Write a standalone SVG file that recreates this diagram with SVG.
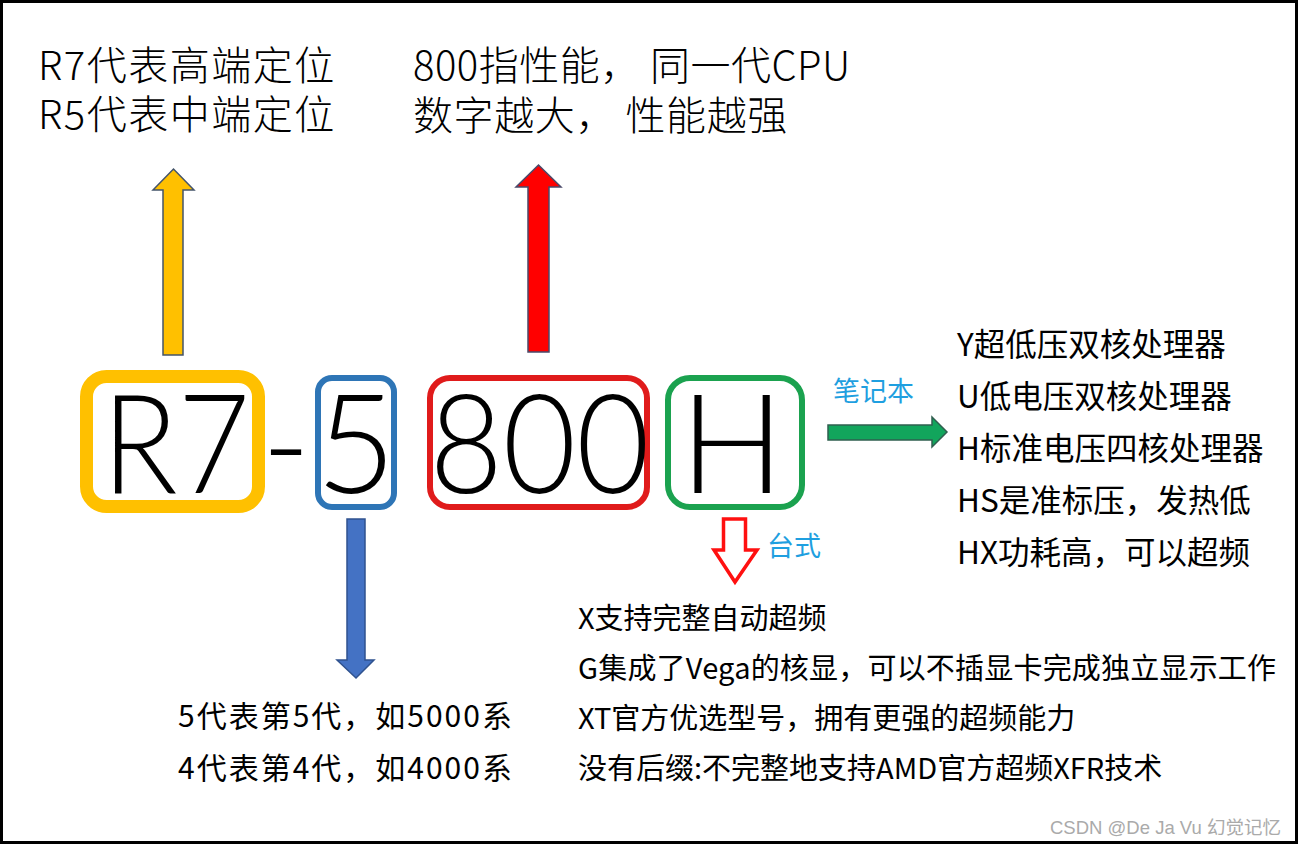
<svg xmlns="http://www.w3.org/2000/svg" width="1299" height="845" viewBox="0 0 1299 845">
<style>
.cjk{font-family:"Noto Sans CJK SC","Noto Sans",sans-serif;fill:#000}
.top{font-size:40px;font-weight:300}
.mid{font-size:31.5px}
.low{font-size:29px}
.gen{font-size:30px;letter-spacing:2px}
.big{font-family:"Lato","Noto Sans","Liberation Sans",sans-serif;font-weight:300;font-size:138px;fill:#000;text-anchor:middle}
.lbl{font-family:"Noto Sans CJK SC",sans-serif;font-size:27px;fill:#1F9FE0}
.box{fill:none}
.arr{stroke-width:1.5;stroke-linejoin:miter}
</style>
<rect x="0" y="0" width="1299" height="845" fill="#fff"/>
<rect x="1.5" y="1.5" width="1295" height="841" fill="none" stroke="#000" stroke-width="3"/>

<g id="desc-r">
<text class="cjk top" x="38" y="80" letter-spacing="1.5">R7代表高端定位</text>
<text class="cjk top" x="38" y="129" letter-spacing="1.5">R5代表中端定位</text>
</g>
<g id="desc-800">
<text class="cjk top" x="413" y="80" letter-spacing="0.5">800指性能， 同一代CPU</text>
<text class="cjk top" x="413" y="130" letter-spacing="0.6">数字越大， 性能越强</text>
</g>

<g id="node-r7">
<rect class="box" x="86.5" y="376.5" width="172" height="130" rx="20" stroke="#FFC000" stroke-width="13"/>
<text class="big" x="176" y="493" textLength="148" lengthAdjust="spacingAndGlyphs">R7</text>
</g>
<g id="dash">
<text class="big" x="286" y="493" textLength="48" lengthAdjust="spacingAndGlyphs">-</text>
</g>
<g id="node-5">
<rect class="box" x="318" y="378" width="76" height="129" rx="14" stroke="#2E75B6" stroke-width="6"/>
<text class="big" x="356" y="493">5</text>
</g>
<g id="node-800">
<rect class="box" x="430" y="378" width="217" height="129" rx="20" stroke="#E01B1B" stroke-width="6"/>
<text class="big" x="539.5" y="493" textLength="220" lengthAdjust="spacingAndGlyphs">800</text>
</g>
<g id="node-h">
<rect class="box" x="668" y="378" width="134" height="129" rx="22" stroke="#1BA24F" stroke-width="6"/>
<text class="big" x="732" y="493">H</text>
</g>

<g id="desc-suffix-laptop">
<text class="cjk mid" x="957" y="356">Y超低压双核处理器</text>
<text class="cjk mid" x="957" y="408">U低电压双核处理器</text>
<text class="cjk mid" x="957" y="460">H标准电压四核处理器</text>
<text class="cjk mid" x="957" y="512">HS是准标压，发热低</text>
<text class="cjk mid" x="957" y="564">HX功耗高，可以超频</text>
</g>
<g id="desc-suffix-desktop">
<text class="cjk low" x="578" y="629">X支持完整自动超频</text>
<text class="cjk low" x="578" y="679" letter-spacing="0.2">G集成了Vega的核显，可以不插显卡完成独立显示工作</text>
<text class="cjk low" x="578" y="729">XT官方优选型号，拥有更强的超频能力</text>
<text class="cjk low" x="578" y="779">没有后缀:不完整地支持AMD官方超频XFR技术</text>
</g>
<g id="desc-gen">
<text class="cjk gen" x="178" y="727">5代表第5代，如5000系</text>
<text class="cjk gen" x="178" y="779">4代表第4代，如4000系</text>
</g>

<g id="connectors">
<polygon class="arr" points="163,355 163,190 153,190 173.5,169 194,190 183,190 183,355" fill="#FFC000" stroke="#44546A"/>
<polygon class="arr" points="528,352 528,187 516,187 538.5,165 561,187 549,187 549,352" fill="#FF0000" stroke="#4A4A6A"/>
<polygon class="arr" points="347,519 365,519 365,660 374,660 356,678 337,660 347,660" fill="#4472C4" stroke="#2F528F"/>
<polygon class="arr" points="828,425 932,425 932,417 947,432 932,447 932,440 828,440" fill="#12A55C" stroke="#2F5F4F"/>
<polygon points="723.5,519 745.5,519 745.5,550 757,550 735,582 714,550 723.5,550" fill="#fff" stroke="#FF1010" stroke-width="3.5"/>
<text class="lbl" x="833" y="401">笔记本</text>
<text class="lbl" x="767" y="556">台式</text>
</g>

<g id="watermark">
<text x="1050" y="834" font-family="Liberation Sans,Noto Sans CJK SC,sans-serif" font-size="18.5" fill="#AAAAAA">CSDN @De Ja Vu 幻觉记忆</text>
</g>
</svg>
